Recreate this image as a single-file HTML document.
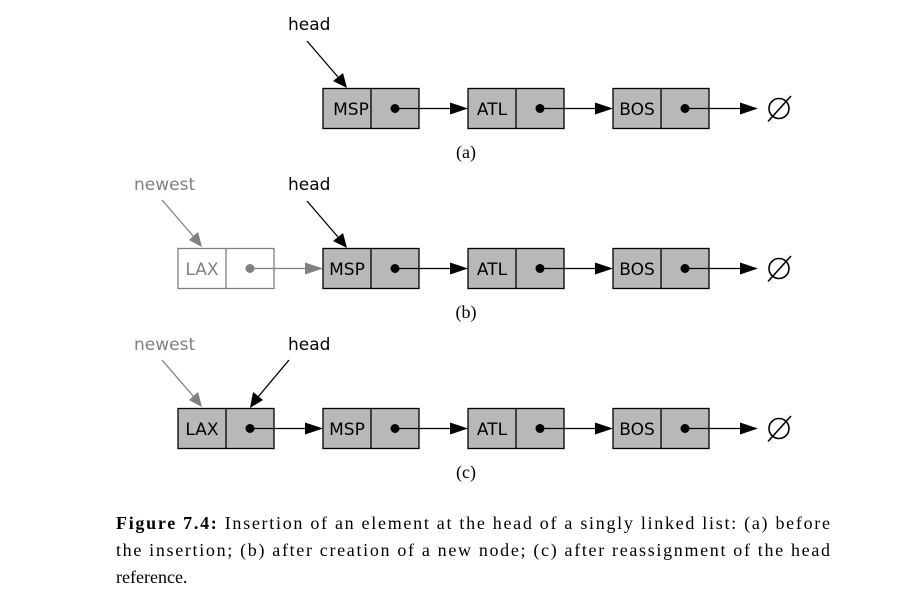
<!DOCTYPE html>
<html><head><meta charset="utf-8"><style>
html,body{margin:0;padding:0;background:#fff;}
svg{display:block;}
.lbl{font-family:"DejaVu Sans","Liberation Sans",sans-serif;font-size:17px;}
.cap{font-family:"Liberation Serif",serif;font-size:18px;fill:#000;}
</style></head><body>
<svg width="918" height="604" viewBox="0 0 918 604" xmlns="http://www.w3.org/2000/svg">
<!-- Row a -->
<g stroke="#000" stroke-width="1.3">
 <rect x="323" y="88.5" width="96" height="40" fill="#b8b8b8"/><line x1="371" y1="88.5" x2="371" y2="128.5"/>
 <rect x="468" y="88.5" width="96" height="40" fill="#b8b8b8"/><line x1="516" y1="88.5" x2="516" y2="128.5"/>
 <rect x="613" y="88.5" width="96" height="40" fill="#b8b8b8"/><line x1="661" y1="88.5" x2="661" y2="128.5"/>
 <line x1="395" y1="108.5" x2="452" y2="108.5"/>
 <line x1="540" y1="108.5" x2="597" y2="108.5"/>
 <line x1="685" y1="108.5" x2="742" y2="108.5"/>
 <line x1="307" y1="41" x2="338" y2="77"/>
</g>
<g fill="#000">
 <circle cx="395" cy="108.5" r="4.5"/><circle cx="540" cy="108.5" r="4.5"/><circle cx="685" cy="108.5" r="4.5"/>
 <polygon points="468,108.5 450,102.5 450,114.5"/>
 <polygon points="613,108.5 595,102.5 595,114.5"/>
 <polygon points="758,108.5 740,102.5 740,114.5"/>
 <polygon points="347,88 333,81 343,73"/>
</g>
<text x="288" y="30" class="lbl" fill="#000">head</text>
<text x="351" y="115" class="lbl" text-anchor="middle">MSP</text>
<text x="492" y="115" class="lbl" text-anchor="middle">ATL</text>
<text x="637" y="115" class="lbl" text-anchor="middle">BOS</text>
<g stroke="#000" stroke-width="1.6" fill="none"><circle cx="779" cy="108.5" r="10"/><line x1="768" y1="121.5" x2="791" y2="96"/></g>
<text x="466" y="158" class="cap" text-anchor="middle">(a)</text>

<!-- Row b -->
<g stroke="#808080" stroke-width="1.3">
 <rect x="178" y="248.5" width="96" height="40" fill="#fff"/><line x1="226" y1="248.5" x2="226" y2="288.5"/>
 <line x1="250" y1="268.5" x2="307" y2="268.5"/>
 <line x1="162" y1="200" x2="194" y2="237"/>
</g>
<g fill="#808080">
 <circle cx="250" cy="268.5" r="4.5"/>
 <polygon points="323,268.5 305,262.5 305,274.5"/>
 <polygon points="202,247 189,240 198,232"/>
</g>
<text x="134" y="190" class="lbl" fill="#808080">newest</text>
<text x="202" y="275" class="lbl" fill="#808080" text-anchor="middle">LAX</text>
<g stroke="#000" stroke-width="1.3">
 <rect x="323" y="248.5" width="96" height="40" fill="#b8b8b8"/><line x1="371" y1="248.5" x2="371" y2="288.5"/>
 <rect x="468" y="248.5" width="96" height="40" fill="#b8b8b8"/><line x1="516" y1="248.5" x2="516" y2="288.5"/>
 <rect x="613" y="248.5" width="96" height="40" fill="#b8b8b8"/><line x1="661" y1="248.5" x2="661" y2="288.5"/>
 <line x1="395" y1="268.5" x2="452" y2="268.5"/>
 <line x1="540" y1="268.5" x2="597" y2="268.5"/>
 <line x1="685" y1="268.5" x2="742" y2="268.5"/>
 <line x1="307" y1="201" x2="338" y2="237"/>
</g>
<g fill="#000">
 <circle cx="395" cy="268.5" r="4.5"/><circle cx="540" cy="268.5" r="4.5"/><circle cx="685" cy="268.5" r="4.5"/>
 <polygon points="468,268.5 450,262.5 450,274.5"/>
 <polygon points="613,268.5 595,262.5 595,274.5"/>
 <polygon points="758,268.5 740,262.5 740,274.5"/>
 <polygon points="347,248 333,241 343,233"/>
</g>
<text x="288" y="190" class="lbl" fill="#000">head</text>
<text x="347" y="275" class="lbl" text-anchor="middle">MSP</text>
<text x="492" y="275" class="lbl" text-anchor="middle">ATL</text>
<text x="637" y="275" class="lbl" text-anchor="middle">BOS</text>
<g stroke="#000" stroke-width="1.6" fill="none"><circle cx="779" cy="268.5" r="10"/><line x1="768" y1="281.5" x2="791" y2="256"/></g>
<text x="466" y="318" class="cap" text-anchor="middle">(b)</text>

<!-- Row c -->
<g stroke="#808080" stroke-width="1.3">
 <line x1="162" y1="360" x2="194" y2="397"/>
</g>
<polygon points="202,407 189,400 198,392" fill="#808080"/>
<text x="134" y="350" class="lbl" fill="#808080">newest</text>
<g stroke="#000" stroke-width="1.3">
 <rect x="178" y="408.5" width="96" height="40" fill="#b8b8b8"/><line x1="226" y1="408.5" x2="226" y2="448.5"/>
 <rect x="323" y="408.5" width="96" height="40" fill="#b8b8b8"/><line x1="371" y1="408.5" x2="371" y2="448.5"/>
 <rect x="468" y="408.5" width="96" height="40" fill="#b8b8b8"/><line x1="516" y1="408.5" x2="516" y2="448.5"/>
 <rect x="613" y="408.5" width="96" height="40" fill="#b8b8b8"/><line x1="661" y1="408.5" x2="661" y2="448.5"/>
 <line x1="250" y1="428.5" x2="307" y2="428.5"/>
 <line x1="395" y1="428.5" x2="452" y2="428.5"/>
 <line x1="540" y1="428.5" x2="597" y2="428.5"/>
 <line x1="685" y1="428.5" x2="742" y2="428.5"/>
 <line x1="289" y1="360" x2="258" y2="397"/>
</g>
<g fill="#000">
 <circle cx="250" cy="428.5" r="4.5"/><circle cx="395" cy="428.5" r="4.5"/><circle cx="540" cy="428.5" r="4.5"/><circle cx="685" cy="428.5" r="4.5"/>
 <polygon points="323,428.5 305,422.5 305,434.5"/>
 <polygon points="468,428.5 450,422.5 450,434.5"/>
 <polygon points="613,428.5 595,422.5 595,434.5"/>
 <polygon points="758,428.5 740,422.5 740,434.5"/>
 <polygon points="250,408 253,392 263,400"/>
</g>
<text x="288" y="350" class="lbl" fill="#000">head</text>
<text x="202" y="435" class="lbl" text-anchor="middle">LAX</text>
<text x="347" y="435" class="lbl" text-anchor="middle">MSP</text>
<text x="492" y="435" class="lbl" text-anchor="middle">ATL</text>
<text x="637" y="435" class="lbl" text-anchor="middle">BOS</text>
<g stroke="#000" stroke-width="1.6" fill="none"><circle cx="779" cy="428.5" r="10"/><line x1="768" y1="441.5" x2="791" y2="416"/></g>
<text x="466" y="478" class="cap" text-anchor="middle">(c)</text>

<!-- Caption -->
<text x="116" y="529" class="cap" textLength="714" lengthAdjust="spacing"><tspan font-weight="bold">Figure 7.4:</tspan> Insertion of an element at the head of a singly linked list: (a) before</text>
<text x="116" y="556" class="cap" textLength="714" lengthAdjust="spacing">the insertion; (b) after creation of a new node; (c) after reassignment of the head</text>
<text x="116" y="583" class="cap">reference.</text>
</svg>
</body></html>
